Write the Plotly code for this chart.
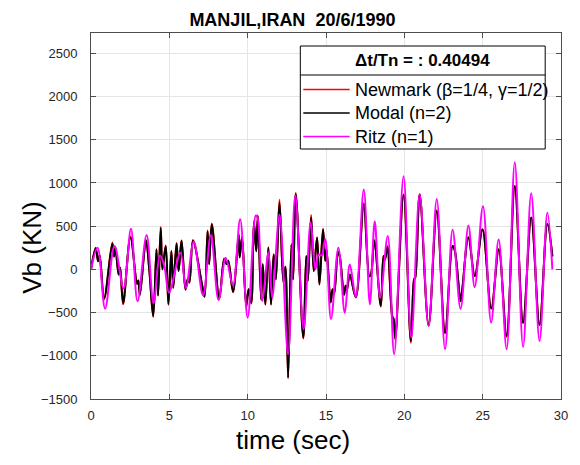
import plotly.graph_objects as go

# Base shear Vb (KN) vs time (sec): peaks and troughs of each response history
modal_t = [0.00, 0.30, 0.45, 0.55, 0.84, 1.36, 1.47, 1.56, 1.76, 1.86, 2.05, 2.52, 2.94, 3.02, 3.12,
           3.51, 3.72, 3.97, 4.18, 4.28, 4.45, 4.56, 4.77, 4.94, 5.13, 5.25, 5.46, 5.59, 5.78, 6.03,
           6.18, 6.28, 6.51, 7.08, 7.25, 7.44, 7.54, 7.71, 8.19, 8.50, 8.65, 8.76, 9.07, 9.43, 9.49,
           9.64, 9.91, 10.06, 10.23, 10.40, 10.55, 10.65, 10.86, 10.96, 11.13, 11.32, 11.49, 11.66,
           11.80, 12.03, 12.28, 12.41, 12.58, 12.79, 12.90, 13.07, 13.55, 13.74, 13.84, 14.05, 14.22,
           14.43, 14.58, 14.81, 14.95, 15.03, 15.30, 15.42, 15.52, 15.77, 15.88, 16.15, 16.25, 16.33,
           16.52, 16.90, 17.41, 17.77, 17.87, 18.08, 18.50, 18.67, 18.76, 18.92, 19.24, 19.31, 19.42,
           19.95, 20.42, 20.62, 20.70, 20.98, 21.55, 22.07, 22.60, 23.08, 23.22, 23.59, 23.70, 24.09,
           24.50, 24.99, 25.55, 26.03, 26.53, 27.05, 27.58, 28.10, 28.63, 29.13, 29.45]

modal_vb = [0, 245, 95, 160, -330, 300, 150, 250, -60, 20, -390, 370, -165, -130, -290,
            330, 0, -540, 230, -300, 480, 0, 270, -400, 210, -210, 300, -20, 330, -230,
            -110, -150, 330, -170, -315, 440, 60, 520, -330, 120, 60, 100, -260, 400, 140,
            370, -420, -230, -385, 540, 210, 615, -346, 58, -404, 250, -404, 173,
            -115, 770, -150, 30, -1250, 288, -115, 870, -790, 154, -135, 600, -19,
            365, -173, 462, 100, 230, -377, -230, -280, 200, 150, -290, -190, -240,
            -60, -320, 750, -80, -60, 330, -423, 154, 110, 260, -550, -570, -800,
            860, -830, -120, -90, 865, -640, 673, -731, 269, 220, -365, -231, 370,
            -77, 462, -450, 231, -769, 962, -615, 596, -640, 525, 150]

newmark_vb = [0, 250, 95, 165, -345, 310, 150, 255, -60, 20, -405, 380, -170, -130, -300,
              340, 0, -550, 235, -305, 490, 0, 275, -410, 215, -215, 305, -20, 335, -235,
              -110, -155, 340, -170, -320, 450, 60, 530, -345, 125, 60, 100, -265, 410, 140,
              375, -440, -230, -395, 560, 210, 625, -355, 58, -410, 255, -410, 175,
              -115, 805, -150, 30, -1260, 290, -115, 885, -800, 154, -135, 630, -19,
              370, -175, 470, 100, 235, -385, -230, -285, 205, 150, -295, -190, -245,
              -60, -325, 765, -80, -60, 340, -430, 154, 110, 270, -560, -575, -810,
              870, -850, -120, -90, 870, -655, 680, -740, 272, 220, -370, -231, 372,
              -77, 465, -455, 232, -780, 965, -620, 600, -645, 528, 150]

ritz_t = [0.00, 0.42, 0.90, 1.50, 2.08, 2.55, 2.97, 3.55, 3.99, 4.40, 4.68, 4.98, 5.71, 6.06,
          6.56, 7.15, 7.65, 8.14, 8.60, 9.06, 9.52, 10.00, 10.52, 10.64, 10.94, 11.32, 11.57,
          12.03, 12.58, 13.04, 13.57, 14.02, 14.32, 14.53, 14.72, 14.95, 15.32, 15.79, 16.20,
          16.52, 16.90, 17.41, 17.80, 18.11, 18.46, 18.94, 19.35, 19.95, 20.44, 20.98, 21.55,
          22.07, 22.60, 23.08, 23.59, 24.09, 24.49, 25.02, 25.54, 26.02, 26.53, 27.05, 27.58,
          28.10, 28.63, 29.13, 29.45]

ritz_vb = [0, 250, -455, 270, -220, 470, -370, 398, -390, 160, 40, -270, 192, -218,
           320, -300, 395, -354, 135, -185, 580, -558, 623, 590, -365, 200, -327,
           635, -981, 854, -692, 546, 0, 173, 160, 350, -577, 250, -505,
           55, -318, 923, -404, 558, -330, 385, -981, 1077, -790, 865, -654,
           815, -923, 458, -458, 508, -205, 731, -615, 346, -925, 1238, -898,
           880, -830, 654, 0]

series_names = ["Newmark (\u03b2=1/4, \u03b3=1/2)", "Modal (n=2)", "Ritz (n=1)"]
series_colors = ["#ff0000", "#000000", "#ff00ff"]

chart_title = "MANJIL,IRAN\u00a0 20/6/1990"
legend_title = "\u0394t/Tn = : 0.40494"
x_label = "time (sec)"
y_label = "Vb (KN)"
x_ticks = [0, 5, 10, 15, 20, 25, 30]
y_ticks = [-1500, -1000, -500, 0, 500, 1000, 1500, 2000, 2500]

FONT = "Liberation Sans, Arial, sans-serif"
W, H = 580, 465
L, R, T, B = 91, 13, 33, 66
plot_w, plot_h = W - L - R, H - T - B


def px_to_paper_x(px):
    return (px - L) / plot_w


def px_to_paper_y(py):
    return (H - B - py) / plot_h


fig = go.Figure()
for t, v, name, color in [(modal_t, newmark_vb, series_names[0], series_colors[0]),
                          (modal_t, modal_vb, series_names[1], series_colors[1]),
                          (ritz_t, ritz_vb, series_names[2], series_colors[2])]:
    fig.add_trace(go.Scatter(x=t, y=v, mode="lines", name=name, showlegend=False,
                             line=dict(color=color, width=2, shape="spline", smoothing=1.0)))

axis_common = dict(
    showgrid=True, gridcolor="#e5e5e5", gridwidth=1,
    showline=True, linecolor="#4d4d4d", linewidth=1, mirror="ticks",
    ticks="inside", ticklen=5, tickcolor="#4d4d4d",
    tickfont=dict(family=FONT, size=13, color="#262626"),
    zeroline=False,
)

fig.update_layout(
    width=W, height=H,
    margin=dict(l=L, r=R, t=T, b=B),
    paper_bgcolor="white", plot_bgcolor="white",
    font=dict(family=FONT, color="#000000"),
    title=dict(text="<b>" + chart_title + "</b>", font=dict(family=FONT, size=18, color="#000000"),
               xref="paper", x=px_to_paper_x(295), xanchor="center",
               yref="container", y=1 - 20 / H, yanchor="middle"),
    xaxis=dict(range=[0, 30], tickvals=x_ticks, ticklabelstandoff=4, **axis_common),
    yaxis=dict(range=[-1500, 2735], tickvals=y_ticks, ticklabelstandoff=10, **axis_common),
    showlegend=False,
)

# Legend box: frame, title, separator, then one line sample and label per series
box_l, box_r, box_t, box_b = 303, 551, 46, 149
fig.add_shape(type="rect", xref="paper", yref="paper", layer="above",
              x0=px_to_paper_x(box_l), x1=px_to_paper_x(box_r),
              y0=px_to_paper_y(box_b), y1=px_to_paper_y(box_t),
              fillcolor="white", line=dict(color="#000000", width=1))
fig.add_shape(type="line", xref="paper", yref="paper", layer="above",
              x0=px_to_paper_x(box_l), x1=px_to_paper_x(box_r),
              y0=px_to_paper_y(75), y1=px_to_paper_y(75),
              line=dict(color="#000000", width=1))
fig.add_annotation(text="<b>" + legend_title + "</b>", xref="paper", yref="paper",
                   x=px_to_paper_x((box_l + box_r) / 2), y=px_to_paper_y(60.5),
                   xanchor="center", yanchor="middle", showarrow=False,
                   font=dict(family=FONT, size=17, color="#000000"))
entry_y = [89.5, 113, 136.5]
for name, color, ey in zip(series_names, series_colors, entry_y):
    fig.add_shape(type="line", xref="paper", yref="paper", layer="above",
                  x0=px_to_paper_x(306), x1=px_to_paper_x(353),
                  y0=px_to_paper_y(ey), y1=px_to_paper_y(ey),
                  line=dict(color=color, width=1.5))
    fig.add_annotation(text=name, xref="paper", yref="paper",
                       x=px_to_paper_x(356), y=px_to_paper_y(ey),
                       xanchor="left", yanchor="middle", showarrow=False,
                       font=dict(family=FONT, size=18, color="#000000"))

fig.add_annotation(text=x_label, xref="paper", yref="paper",
                   x=px_to_paper_x(295.5), y=px_to_paper_y(440), xanchor="center", yanchor="middle",
                   showarrow=False, font=dict(family=FONT, size=26, color="#000000"))
fig.add_annotation(text=y_label, xref="paper", yref="paper", textangle=-90,
                   x=px_to_paper_x(31), y=px_to_paper_y(248), xanchor="center", yanchor="middle",
                   showarrow=False, font=dict(family=FONT, size=26, color="#000000"))

fig.write_html("out.html")
